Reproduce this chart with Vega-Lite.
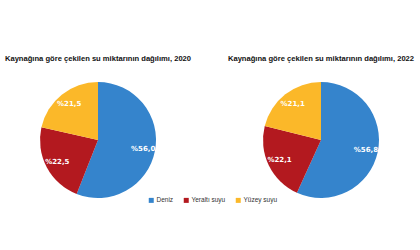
{
  "$schema": "https://vega.github.io/schema/vega-lite/v6.json",
  "padding": {"left": 0, "top": 55, "right": 0, "bottom": 5},
  "background": "white",
  "datasets": {
    "pay": [
      {"yil": 2020, "kaynak": "Deniz", "pay": 56.0, "etiket": "%56,0"},
      {"yil": 2020, "kaynak": "Yeraltı suyu", "pay": 22.5, "etiket": "%22,5"},
      {"yil": 2020, "kaynak": "Yüzey suyu", "pay": 21.5, "etiket": "%21,5"},
      {"yil": 2022, "kaynak": "Deniz", "pay": 56.8, "etiket": "%56,8"},
      {"yil": 2022, "kaynak": "Yeraltı suyu", "pay": 22.1, "etiket": "%22,1"},
      {"yil": 2022, "kaynak": "Yüzey suyu", "pay": 21.1, "etiket": "%21,1"}
    ]
  },
  "spacing": 27,
  "hconcat": [
    {
      "title": "Kaynağına göre çekilen su miktarının dağılımı, 2020",
      "width": 196,
      "height": 116,
      "data": {"name": "pay"},
      "transform": [{"filter": "datum.yil == 2020"}],
      "layer": [
        {"mark": {"type": "arc", "outerRadius": 58},
         "encoding": {
           "theta": {"field": "pay", "type": "quantitative", "stack": true},
           "order": {"field": "kaynak", "type": "ordinal", "sort": "ascending"},
           "color": {"field": "kaynak", "type": "nominal", "title": null,
             "scale": {"domain": ["Deniz", "Yeraltı suyu", "Yüzey suyu"], "range": ["#3584CC", "#B3191F", "#FBB829"]},
             "legend": {"orient": "none", "direction": "horizontal", "legendX": 148, "legendY": 115}}
         }},
        {"mark": {"type": "text", "radius": 46, "fontWeight": "bold", "fontSize": 7, "font": "DejaVu Sans"},
         "encoding": {
           "theta": {"field": "pay", "type": "quantitative", "stack": true},
           "order": {"field": "kaynak", "type": "ordinal", "sort": "ascending"},
           "detail": {"field": "kaynak", "type": "nominal"},
           "color": {"value": "white"},
           "text": {"field": "etiket"}}}
      ]
    },
    {
      "title": "Kaynağına göre çekilen su miktarının dağılımı, 2022",
      "width": 196,
      "height": 116,
      "data": {"name": "pay"},
      "transform": [{"filter": "datum.yil == 2022"}],
      "layer": [
        {"mark": {"type": "arc", "outerRadius": 58},
         "encoding": {
           "theta": {"field": "pay", "type": "quantitative", "stack": true},
           "order": {"field": "kaynak", "type": "ordinal", "sort": "ascending"},
           "color": {"field": "kaynak", "type": "nominal", "title": null,
             "scale": {"domain": ["Deniz", "Yeraltı suyu", "Yüzey suyu"], "range": ["#3584CC", "#B3191F", "#FBB829"]},
             "legend": {"orient": "none", "direction": "horizontal", "legendX": 148, "legendY": 115}}
         }},
        {"mark": {"type": "text", "radius": 46, "fontWeight": "bold", "fontSize": 7, "font": "DejaVu Sans"},
         "encoding": {
           "theta": {"field": "pay", "type": "quantitative", "stack": true},
           "order": {"field": "kaynak", "type": "ordinal", "sort": "ascending"},
           "detail": {"field": "kaynak", "type": "nominal"},
           "color": {"value": "white"},
           "text": {"field": "etiket"}}}
      ]
    }
  ],
  "config": {
    "view": {"stroke": null},
    "title": {"font": "Liberation Sans", "fontSize": 7.6, "fontWeight": "bold", "color": "#111", "anchor": "middle", "offset": 19},
    "legend": {"labelFont": "Liberation Sans", "labelFontSize": 6.5, "labelColor": "#333", "symbolType": "square", "symbolSize": 25, "symbolStrokeWidth": 0, "columnPadding": 9, "labelOffset": 2}
  }
}
